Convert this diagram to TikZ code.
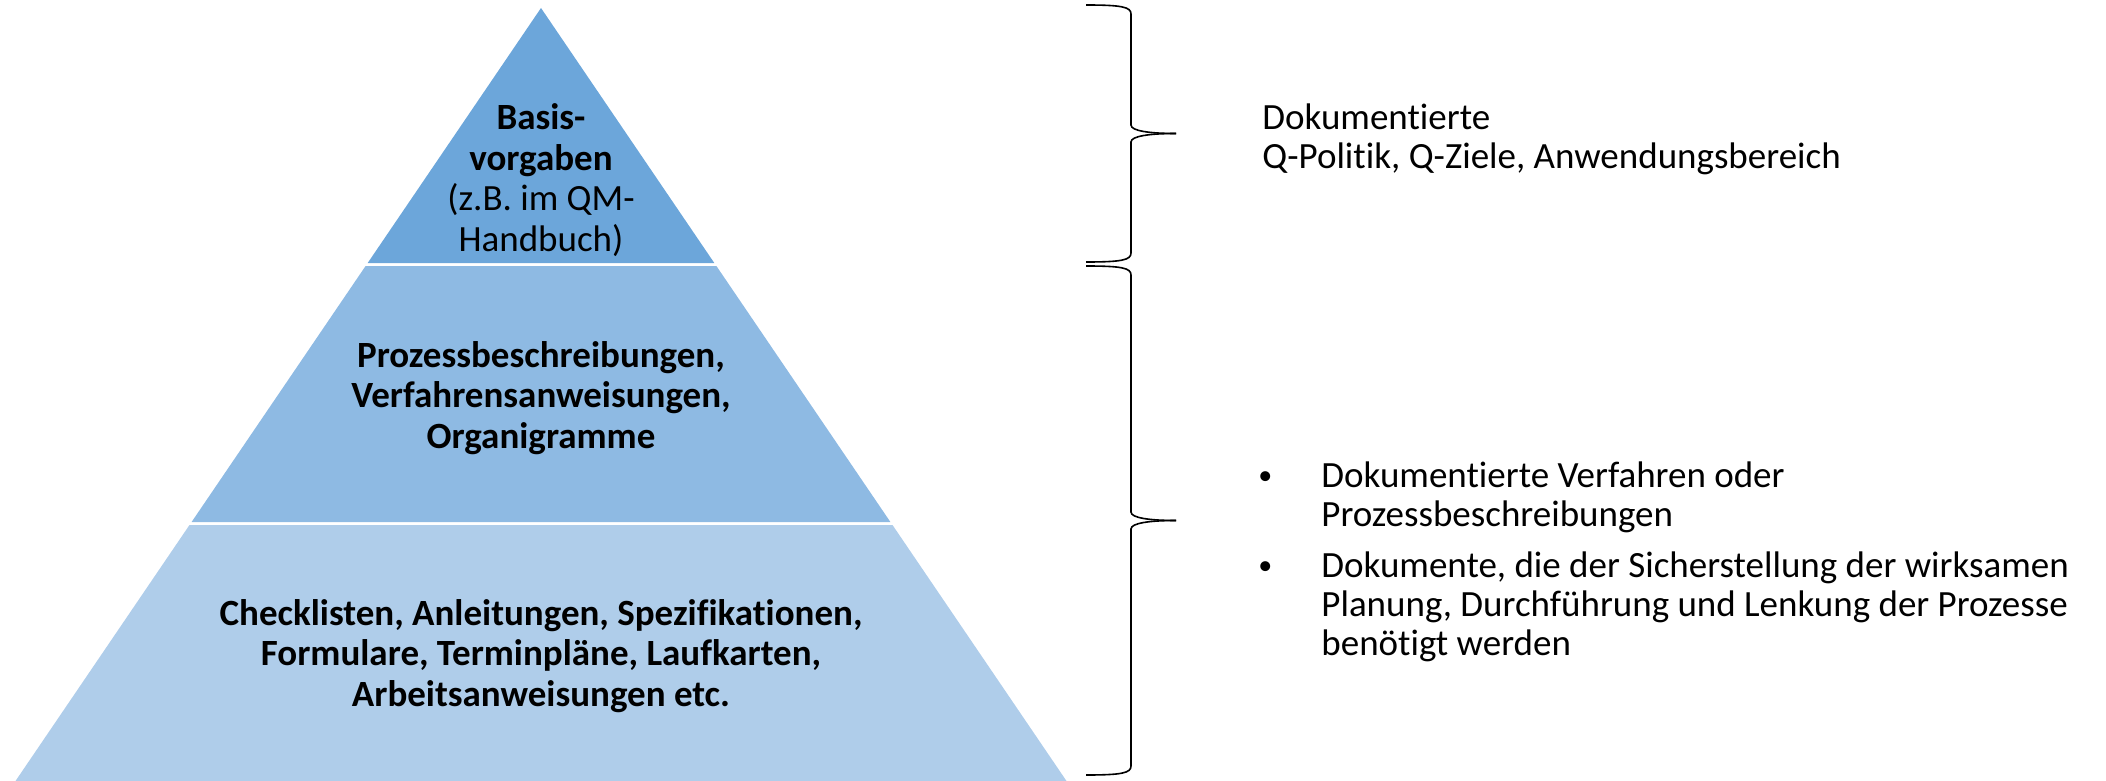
\documentclass[tikz,border=0pt]{standalone}
\usepackage{fontspec}
\setmainfont[Ligatures={NoCommon}]{Carlito}
\usepackage{tikz}
\usetikzlibrary{positioning}
\definecolor{layerA}{RGB}{108,166,218}
\definecolor{layerB}{RGB}{142,186,227}
\definecolor{layerC}{RGB}{175,205,234}
\tikzset{
  pyrtext/.style={align=center,inner sep=0pt,font=\fontsize{18.5}{20.2}\selectfont},
  sidetext/.style={align=left,inner sep=0pt,anchor=west,font=\fontsize{18.5}{19.6}\selectfont},
  qbrace/.style={black,line width=0.8pt}
}
\begin{document}
\begin{tikzpicture}[x=0.5pt,y=-0.5pt]
            \useasboundingbox (0,0) rectangle (2106,781);
            \fill[layerA] (541,8) -- (714.3,263) -- (367.7,263) -- cycle;
            \fill[layerB] (365.6,266) -- (716.4,266) -- (890.4,522) -- (191.6,522) -- cycle;
            \fill[layerC] (189.5,525) -- (892.5,525) -- (1066.5,781) -- (15.5,781) -- cycle;
            \node[pyrtext] (basis) at (541,180) {\textbf{Basis-}\\\textbf{vorgaben}\\(z.B. im QM-\\Handbuch)};
            \node[pyrtext] (prozess) at (541,398) {\textbf{Prozessbeschreibungen,}\\\textbf{Verfahrensanweisungen,}\\\textbf{Organigramme}};
            \node[pyrtext] (check) at (541,656) {\textbf{Checklisten, Anleitungen, Spezifikationen,}\\\textbf{Formulare, Terminpläne, Laufkarten,}\\\textbf{Arbeitsanweisungen etc.}};
            \draw[qbrace] (1086,5) .. controls (1122,5) and (1131,7) .. (1131,14) -- (1131,125) .. controls (1131,131) and (1150,133.5) .. (1176,133.5);
            \draw[qbrace] (1176,133.5) .. controls (1150,133.5) and (1131,136) .. (1131,142) -- (1131,253) .. controls (1131,260) and (1122,262) .. (1086,262);
            \draw[qbrace] (1086,266) .. controls (1122,266) and (1131,268) .. (1131,275) -- (1131,512) .. controls (1131,518) and (1150,520.5) .. (1176,520.5);
            \draw[qbrace] (1176,520.5) .. controls (1150,520.5) and (1131,523) .. (1131,529) -- (1131,766) .. controls (1131,773) and (1122,775) .. (1086,775);
            \node[sidetext] (ziele) at (1262,139) {Dokumentierte\\Q-Politik, Q-Ziele, Anwendungsbereich};
            \node[sidetext] (verfahren) at (1321,497) {Dokumentierte Verfahren oder\\Prozessbeschreibungen};
            \node[sidetext] (lenkung) at (1321,607) {Dokumente, die der Sicherstellung der wirksamen\\Planung, Durchführung und Lenkung der Prozesse\\benötigt werden};
            \node[inner sep=0pt,anchor=base west,font=\fontsize{14}{14}\selectfont] (dotA) at (1258,484) {•};
            \node[inner sep=0pt,anchor=base west,font=\fontsize{14}{14}\selectfont] (dotB) at (1258,574) {•};
        \end{tikzpicture}
\end{document}
